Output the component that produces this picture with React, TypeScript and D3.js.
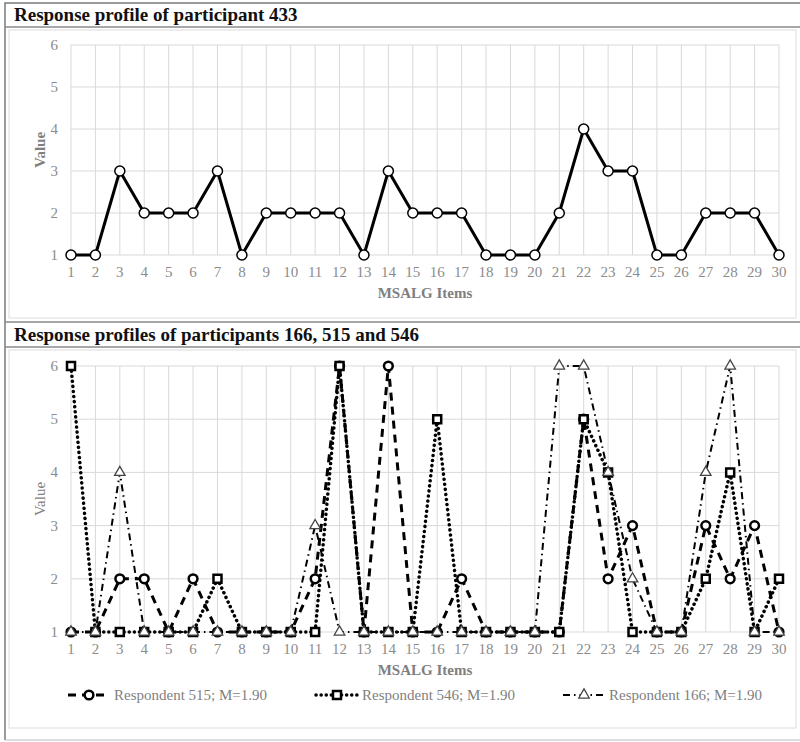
import * as d3 from "d3";
import { useEffect, useRef } from "react";

const WIDTH = 800;
const HEIGHT = 742;
const FONT = "Liberation Serif, Times New Roman, DejaVu Serif, serif";

// MSALG items 1..30
const ITEMS = [1, 2, 3, 4, 5, 6, 7, 8, 9, 10, 11, 12, 13, 14, 15, 16, 17, 18, 19, 20, 21, 22, 23, 24, 25, 26, 27, 28, 29, 30];
const Y_TICKS = [1, 2, 3, 4, 5, 6];

const P433 = [1, 1, 3, 2, 2, 2, 3, 1, 2, 2, 2, 2, 1, 3, 2, 2, 2, 1, 1, 1, 2, 4, 3, 3, 1, 1, 2, 2, 2, 1];
const R515 = [1, 1, 2, 2, 1, 2, 1, 1, 1, 1, 2, 6, 1, 6, 1, 1, 2, 1, 1, 1, 1, 5, 2, 3, 1, 1, 3, 2, 3, 1];
const R546 = [6, 1, 1, 1, 1, 1, 2, 1, 1, 1, 1, 6, 1, 1, 1, 5, 1, 1, 1, 1, 1, 5, 4, 1, 1, 1, 2, 4, 1, 2];
const R166 = [1, 1, 4, 1, 1, 1, 1, 1, 1, 1, 3, 1, 1, 1, 1, 1, 1, 1, 1, 1, 6, 6, 4, 2, 1, 1, 4, 6, 1, 1];

const TITLE_TOP = "Response profile of participant 433";
const TITLE_BOTTOM = "Response profiles of participants 166, 515 and 546";
const X_TITLE = "MSALG Items";
const Y_TITLE = "Value";
const LEGEND_LABELS = ["Respondent 515; M=1.90", "Respondent 546; M=1.90", "Respondent 166; M=1.90"];

type Series = {
    values: number[];
    label: string;
    dash: string;
    width: number;
    cap: "butt" | "round";
    symbol: d3.SymbolType;
    size: number;
    markerStroke: number;
    markerColor: string;
};

const SERIES: Series[] = [
    { values: R515, label: LEGEND_LABELS[0], dash: "8,6", width: 3, cap: "butt", symbol: d3.symbolCircle, size: 60, markerStroke: 2.5, markerColor: "#000" },
    { values: R546, label: LEGEND_LABELS[1], dash: "0.1,5", width: 3.5, cap: "round", symbol: d3.symbolSquare, size: 64, markerStroke: 2.5, markerColor: "#000" },
    { values: R166, label: LEGEND_LABELS[2], dash: "7,4,1.5,4", width: 2, cap: "butt", symbol: d3.symbolTriangle, size: 48, markerStroke: 1.3, markerColor: "#444" },
];

type G = d3.Selection<SVGGElement, unknown, null, undefined>;

function drawGrid(g: G, x: d3.ScaleLinear<number, number>, y: d3.ScaleLinear<number, number>, boldY: boolean) {
    const [x0, x1] = x.range();
    const [yb, yt] = y.range();
    g.selectAll("line.vgrid")
        .data(ITEMS)
        .enter()
        .append("line")
        .attr("x1", (d) => x(d))
        .attr("x2", (d) => x(d))
        .attr("y1", yt)
        .attr("y2", yb)
        .attr("stroke", "#d9d9d9");
    g.selectAll("line.hgrid")
        .data(Y_TICKS)
        .enter()
        .append("line")
        .attr("x1", x0)
        .attr("x2", x1)
        .attr("y1", (d) => y(d))
        .attr("y2", (d) => y(d))
        .attr("stroke", "#d9d9d9");
    g.selectAll("text.ytick")
        .data(Y_TICKS)
        .enter()
        .append("text")
        .attr("x", x0 - 13)
        .attr("y", (d) => y(d) + 5)
        .attr("text-anchor", "end")
        .attr("font-size", 15)
        .attr("fill", "#8c8c8c")
        .text((d) => d);
    g.selectAll("text.xtick")
        .data(ITEMS)
        .enter()
        .append("text")
        .attr("x", (d) => x(d))
        .attr("y", yb + 22)
        .attr("text-anchor", "middle")
        .attr("font-size", 15)
        .attr("fill", "#8c8c8c")
        .text((d) => d);
    g.append("text")
        .attr("x", (x0 + x1) / 2)
        .attr("y", yb + 43)
        .attr("text-anchor", "middle")
        .attr("font-size", 15)
        .attr("font-weight", "bold")
        .attr("fill", "#7f7f7f")
        .text(X_TITLE);
    g.append("text")
        .attr("transform", `translate(45,${(yb + yt) / 2}) rotate(-90)`)
        .attr("text-anchor", "middle")
        .attr("font-size", 15)
        .attr("font-weight", boldY ? "bold" : "normal")
        .attr("fill", "#7f7f7f")
        .text(Y_TITLE);
}

export default function App() {
    const svgRef = useRef<SVGSVGElement | null>(null);

    useEffect(() => {
        if (!svgRef.current) return;
        const svg = d3.select(svgRef.current);
        svg.selectAll("*").remove();
        const root = svg.append("g").attr("font-family", FONT).style("font-family", FONT);

        // frames and title bars
        root.append("rect").attr("x", 0).attr("y", 0).attr("width", WIDTH).attr("height", HEIGHT).attr("fill", "#fff");
        root.append("path").attr("d", `M5,${HEIGHT - 2}V3H${WIDTH}`).attr("fill", "none").attr("stroke", "#7a7a7a").attr("stroke-width", 1.5);
        root.append("line").attr("x1", 5).attr("x2", WIDTH).attr("y1", HEIGHT - 2).attr("y2", HEIGHT - 2).attr("stroke", "#bbb");
        [27, 322, 347].forEach((yy) =>
            root.append("line").attr("x1", 5).attr("x2", WIDTH).attr("y1", yy).attr("y2", yy).attr("stroke", "#8a8a8a").attr("stroke-width", 1.5)
        );
        root.append("rect").attr("x", 9).attr("y", 30).attr("width", 787).attr("height", 288).attr("fill", "none").attr("stroke", "#dcdcdc");
        root.append("rect").attr("x", 9).attr("y", 350).attr("width", 787).attr("height", 378).attr("fill", "none").attr("stroke", "#dcdcdc");
        root.append("text").attr("x", 14).attr("y", 21).attr("font-size", 19).attr("font-weight", "bold").attr("fill", "#111").text(TITLE_TOP);
        root.append("text").attr("x", 14).attr("y", 341).attr("font-size", 19).attr("font-weight", "bold").attr("fill", "#111").text(TITLE_BOTTOM);

        const x = d3.scaleLinear().domain([1, 30]).range([71, 779]);

        // top panel
        const yTop = d3.scaleLinear().domain([1, 6]).range([255, 45]);
        const top = root.append("g");
        drawGrid(top, x, yTop, true);
        const lineTop = d3
            .line<number>()
            .x((_, i) => x(ITEMS[i]))
            .y((d) => yTop(d));
        top.append("path").datum(P433).attr("d", lineTop).attr("fill", "none").attr("stroke", "#000").attr("stroke-width", 3).attr("stroke-linejoin", "round");
        top.selectAll("circle")
            .data(P433)
            .enter()
            .append("circle")
            .attr("cx", (_, i) => x(ITEMS[i]))
            .attr("cy", (d) => yTop(d))
            .attr("r", 5)
            .attr("fill", "#fff")
            .attr("stroke", "#000")
            .attr("stroke-width", 1.5);

        // bottom panel
        const yBot = d3.scaleLinear().domain([1, 6]).range([632, 366]);
        const bot = root.append("g");
        drawGrid(bot, x, yBot, false);
        const lineBot = d3
            .line<number>()
            .x((_, i) => x(ITEMS[i]))
            .y((d) => yBot(d));
        SERIES.forEach((s) => {
            bot.append("path")
                .datum(s.values)
                .attr("d", lineBot)
                .attr("fill", "none")
                .attr("stroke", "#000")
                .attr("stroke-width", s.width)
                .attr("stroke-dasharray", s.dash)
                .attr("stroke-linecap", s.cap);
        });
        SERIES.forEach((s) => {
            const sym = d3.symbol().type(s.symbol).size(s.size);
            bot.append("g")
                .selectAll("path")
                .data(s.values)
                .enter()
                .append("path")
                .attr("d", sym)
                .attr("transform", (d, i) => `translate(${x(ITEMS[i])},${yBot(d)})`)
                .attr("fill", "#fff")
                .attr("stroke", s.markerColor)
                .attr("stroke-width", s.markerStroke);
        });

        // legend
        const legendX = [68, 316, 563];
        const legend = bot.append("g").attr("transform", "translate(0,695)");
        SERIES.forEach((s, i) => {
            const item = legend.append("g").attr("transform", `translate(${legendX[i]},0)`);
            item.append("line")
                .attr("x1", 0)
                .attr("x2", 42)
                .attr("y1", 0)
                .attr("y2", 0)
                .attr("stroke", "#000")
                .attr("stroke-width", s.width)
                .attr("stroke-dasharray", s.dash)
                .attr("stroke-linecap", s.cap);
            item.append("path")
                .attr("d", d3.symbol().type(s.symbol).size(s.size))
                .attr("transform", "translate(21,0)")
                .attr("fill", "#fff")
                .attr("stroke", s.markerColor)
                .attr("stroke-width", s.markerStroke);
            item.append("text").attr("x", 46).attr("y", 5).attr("font-size", 15).attr("fill", "#7f7f7f").text(s.label);
        });

        return () => {
            svg.selectAll("*").remove();
        };
    }, []);

    return <svg ref={svgRef} width={WIDTH} height={HEIGHT} style={{ position: "absolute", left: 0, top: 0 }} />;
}
